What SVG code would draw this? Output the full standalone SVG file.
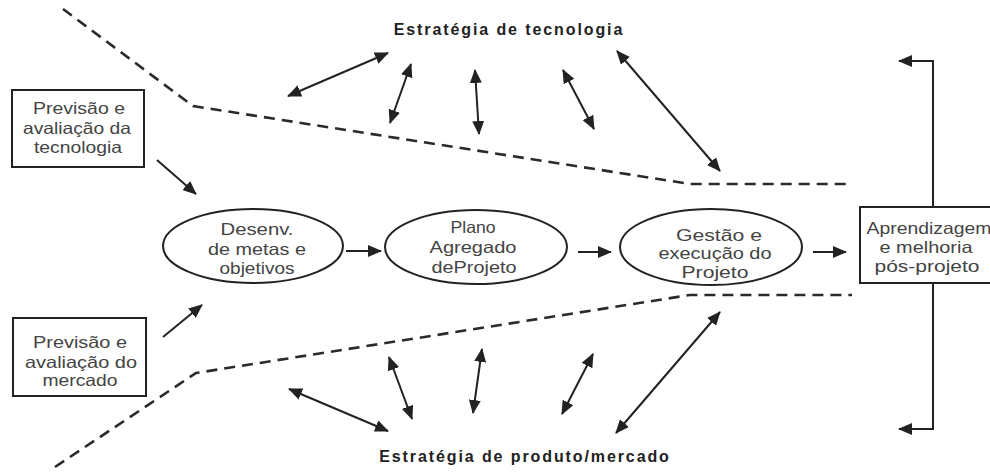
<svg xmlns="http://www.w3.org/2000/svg" width="990" height="474" viewBox="0 0 990 474">
<defs>
<marker id="ah" markerUnits="userSpaceOnUse" markerWidth="14" markerHeight="12" refX="13" refY="6" orient="auto-start-reverse">
<path d="M0,0 L14,6 L0,12 Z" fill="#222"/>
</marker>
<style>
.ar{stroke:#222;stroke-width:2;fill:none;marker-end:url(#ah)}
.da{stroke:#222;stroke-width:2;fill:none;marker-end:url(#ah);marker-start:url(#ah)}
.dash{stroke:#2a2a2a;stroke-width:2.6;fill:none;stroke-dasharray:11 7}
.box{fill:#fff;stroke:#222;stroke-width:2}
.t{font-family:"Liberation Sans",Arial,sans-serif;font-size:16.5px;fill:#444;text-anchor:middle}
.h{font-family:"Liberation Sans",Arial,sans-serif;font-size:16px;font-weight:bold;fill:#222;text-anchor:middle;letter-spacing:1.9px}
</style>
</defs>
<rect width="990" height="474" fill="#fff"/>
<g id="boundaries">
<path class="dash" d="M63,9 L193,106 L690,184 L852,184"/>
<path class="dash" d="M55,467 L196,373 L690,295 L852,295"/>
</g>
<g id="label-tec"><text class="h" x="509" y="35">Estratégia de tecnologia</text></g>
<g id="label-prod"><text class="h" x="525" y="462">Estratégia de produto/mercado</text></g>
<g id="prev-tec">
<rect class="box" x="12" y="90" width="132" height="77"/>
<text class="t" x="79" y="114" textLength="92" lengthAdjust="spacingAndGlyphs">Previsão e</text>
<text class="t" x="77" y="134" textLength="108" lengthAdjust="spacingAndGlyphs">avaliação da</text>
<text class="t" x="78" y="153" textLength="88" lengthAdjust="spacingAndGlyphs">tecnologia</text>
</g>
<g id="prev-merc">
<rect class="box" x="13" y="318" width="133" height="78"/>
<text class="t" x="80" y="348" textLength="94" lengthAdjust="spacingAndGlyphs">Previsão e</text>
<text class="t" x="81" y="368" textLength="112" lengthAdjust="spacingAndGlyphs">avaliação do</text>
<text class="t" x="80" y="386" textLength="75" lengthAdjust="spacingAndGlyphs">mercado</text>
</g>
<g id="desenv">
<ellipse class="box" cx="253" cy="246" rx="90" ry="37"/>
<text class="t" x="257" y="235" textLength="73" lengthAdjust="spacingAndGlyphs">Desenv.</text>
<text class="t" x="257" y="255" textLength="98" lengthAdjust="spacingAndGlyphs">de metas e</text>
<text class="t" x="257" y="274" textLength="75" lengthAdjust="spacingAndGlyphs">objetivos</text>
</g>
<g id="plano">
<ellipse class="box" cx="476" cy="247" rx="91" ry="37"/>
<text class="t" x="473" y="233" textLength="45" lengthAdjust="spacingAndGlyphs">Plano</text>
<text class="t" x="473" y="253" textLength="87" lengthAdjust="spacingAndGlyphs">Agregado</text>
<text class="t" x="474" y="273" textLength="85" lengthAdjust="spacingAndGlyphs">deProjeto</text>
</g>
<g id="gestao">
<ellipse class="box" cx="711" cy="247" rx="91" ry="38"/>
<text class="t" x="719" y="241" textLength="86" lengthAdjust="spacingAndGlyphs">Gestão e</text>
<text class="t" x="715" y="259" textLength="113" lengthAdjust="spacingAndGlyphs">execução do</text>
<text class="t" x="715" y="278" textLength="67" lengthAdjust="spacingAndGlyphs">Projeto</text>
</g>
<g id="aprend">
<rect class="box" x="860" y="207" width="150" height="76"/>
<text class="t" x="929" y="234" textLength="125" lengthAdjust="spacingAndGlyphs">Aprendizagem</text>
<text class="t" x="926" y="253" textLength="93" lengthAdjust="spacingAndGlyphs">e melhoria</text>
<text class="t" x="927" y="272" textLength="105" lengthAdjust="spacingAndGlyphs">pós-projeto</text>
</g>
<g id="connectors">
<line class="ar" x1="157" y1="160" x2="196" y2="194"/>
<line class="ar" x1="163" y1="337" x2="202" y2="305"/>
<line class="ar" x1="346" y1="251" x2="381" y2="251"/>
<line class="ar" x1="578" y1="252" x2="611" y2="252"/>
<line class="ar" x1="813" y1="252" x2="846" y2="252"/>
<path class="ar" d="M933,207 L933,61 L899,61"/>
<path class="ar" d="M933,283 L933,429 L899,429"/>
<line class="da" x1="288" y1="96" x2="388" y2="53"/>
<line class="da" x1="390" y1="123" x2="411" y2="64"/>
<line class="da" x1="479" y1="134" x2="475" y2="70"/>
<line class="da" x1="594" y1="129" x2="563" y2="70"/>
<line class="da" x1="720" y1="171" x2="617" y2="51"/>
<line class="da" x1="289" y1="389" x2="388" y2="431"/>
<line class="da" x1="389" y1="357" x2="412" y2="419"/>
<line class="da" x1="482" y1="349" x2="473" y2="413"/>
<line class="da" x1="593" y1="354" x2="562" y2="414"/>
<line class="da" x1="720" y1="312" x2="616" y2="433"/>
</g>
</svg>
